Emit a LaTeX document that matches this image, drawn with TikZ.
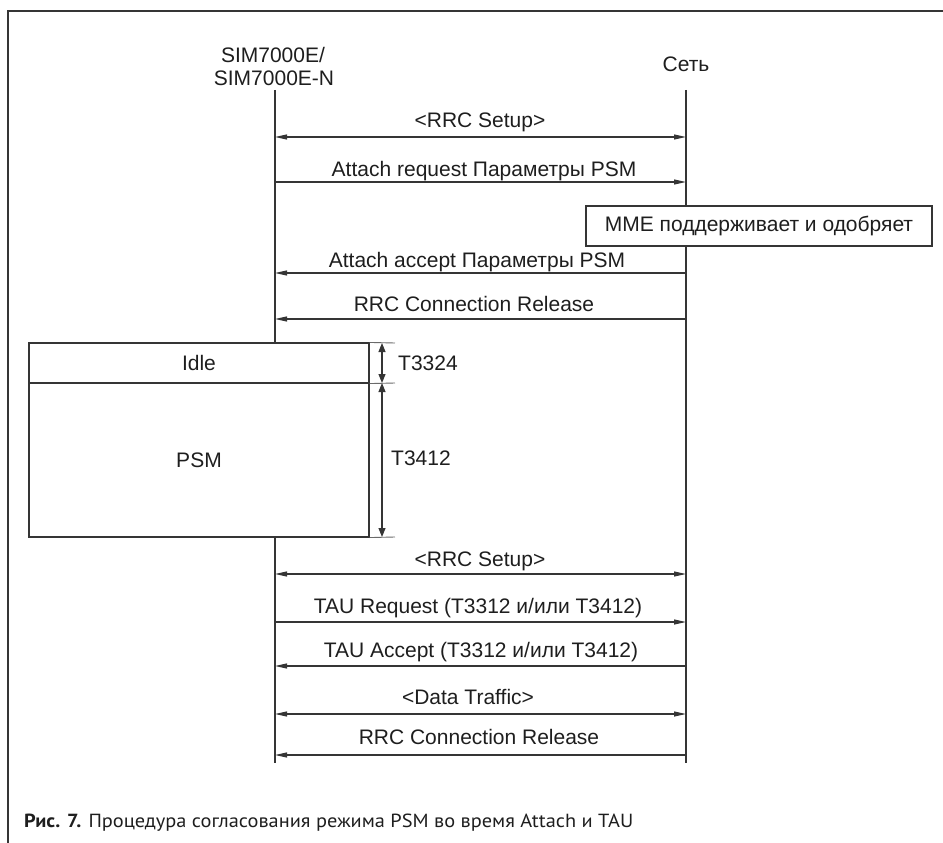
\documentclass[tikz,border=0pt]{standalone}
\usepackage{fontspec}
\usepackage{graphicx}
\setmainfont{Liberation Sans}
\newfontfamily\capfont{PT Sans}
\usetikzlibrary{arrows.meta}
\definecolor{ln}{HTML}{353535}
\definecolor{tx}{HTML}{1e1e1e}
\definecolor{tk}{HTML}{6a6a6a}
\begin{document}
\begin{tikzpicture}[x=1pt,y=-1pt,
  every node/.style={text=tx,font=\fontsize{21}{22}\selectfont,inner sep=0pt},
  life/.style={draw=ln,line width=1.1pt},
  frameline/.style={draw=ln,line width=1.6pt},
  msgr/.style={draw=ln,line width=1.1pt,-{Triangle[length=12pt,width=5pt]}},
  msgl/.style={draw=ln,line width=1.1pt,{Triangle[length=12pt,width=5pt]}-},
  msgb/.style={draw=ln,line width=1.1pt,{Triangle[length=12pt,width=5pt]}-{Triangle[length=12pt,width=5pt]}},
  timer/.style={draw=ln,line width=1.1pt,{Triangle[length=9pt,width=7pt]}-{Triangle[length=9pt,width=7pt]}},
  tickline/.style={draw=tk,line width=0.9pt},
  statebox/.style={draw=ln,line width=1.1pt,minimum width=340pt},
  lbl/.style={anchor=base}
]
\useasboundingbox (0,0) rectangle (943,843);
% frame
\draw[frameline] (943,11) -- (8,11) -- (8,843);

% headers
\node[lbl] (h1) at (273,63) {SIM7000E/};
\node[lbl] (h2) at (274,85) {SIM7000E-N};
\node[lbl] (h3) at (686,72) {Сеть};

% lifeline coordinates
\coordinate (Lt) at (275,90);
\coordinate (Rt) at (686,90);
\coordinate (Lb) at (275,763);
\coordinate (Rb) at (686,763);

% MME box
\node[draw=ln,line width=1.1pt,minimum width=346pt,minimum height=40pt] (mme) at (759,226) {MME поддерживает и одобряет};

% Idle / PSM boxes
\node[statebox,minimum height=40pt] (idle) at (199,363) {Idle};
\node[statebox,minimum height=154pt] (psm) at (199,460) {PSM};

% lifelines
\draw[life] (Lt) -- (275,343);
\draw[life] (275,537) -- (Lb);
\draw[life] (Rt) -- (mme.north -| Rt);
\draw[life] (mme.south -| Rt) -- (Rb);

% messages
\coordinate (L1) at (275,137); \coordinate (R1) at (686,137);
\draw[msgb] (L1) -- (R1);
\node[lbl] (m1) at (480,128) {<RRC Setup>};

\coordinate (L2) at (275,182); \coordinate (R2) at (686,182);
\draw[msgr] (L2) -- (R2);
\node[lbl] (m2) at (484,176) {Attach request Параметры PSM};

\coordinate (L3) at (275,273); \coordinate (R3) at (686,273);
\draw[msgl] (L3) -- (R3);
\node[lbl] (m3) at (477,267) {Attach accept Параметры PSM};

\coordinate (L4) at (275,319); \coordinate (R4) at (686,319);
\draw[msgl] (L4) -- (R4);
\node[lbl] (m4) at (474,311) {RRC Connection Release};

\coordinate (L5) at (275,574); \coordinate (R5) at (686,574);
\draw[msgb] (L5) -- (R5);
\node[lbl] (m5) at (480,566) {<RRC Setup>};

\coordinate (L6) at (275,622); \coordinate (R6) at (686,622);
\draw[msgr] (L6) -- (R6);
\node[lbl] (m6) at (478,613) {TAU Request (T3312 и/или T3412)};

\coordinate (L7) at (275,666); \coordinate (R7) at (686,666);
\draw[msgl] (L7) -- (R7);
\node[lbl] (m7) at (481,657) {TAU Accept (T3312 и/или T3412)};

\coordinate (L8) at (275,714); \coordinate (R8) at (686,714);
\draw[msgb] (L8) -- (R8);
\node[lbl] (m8) at (468,704) {<Data Traffic>};

\coordinate (L9) at (275,755); \coordinate (R9) at (686,755);
\draw[msgl] (L9) -- (R9);
\node[lbl] (m9) at (479,744) {RRC Connection Release};

% timer ticks
\coordinate (t1) at (395,343);
\coordinate (t2) at (395,383);
\coordinate (t3) at (395,537);
\draw[tickline] (idle.north east) -- (t1);
\draw[tickline] (idle.south east) -- (t2);
\draw[tickline] (psm.south east) -- (t3);
\coordinate (a1) at (382,343);
\coordinate (a2) at (382,383);
\coordinate (a3) at (382,537);
\draw[timer] (a1) -- (a2);
\draw[timer] (a2) -- (a3);
\node[anchor=west] (T1) at (398,363) {T3324};
\node[anchor=west] (T2) at (391,458) {T3412};

% caption
\node[anchor=west,font=\capfont\fontsize{19}{20}\selectfont] (cap) at (24,823)
  {\resizebox{609pt}{\height}{\textbf{Рис. 7.} Процедура согласования режима PSM во время Attach и TAU}};
\end{tikzpicture}
\end{document}
